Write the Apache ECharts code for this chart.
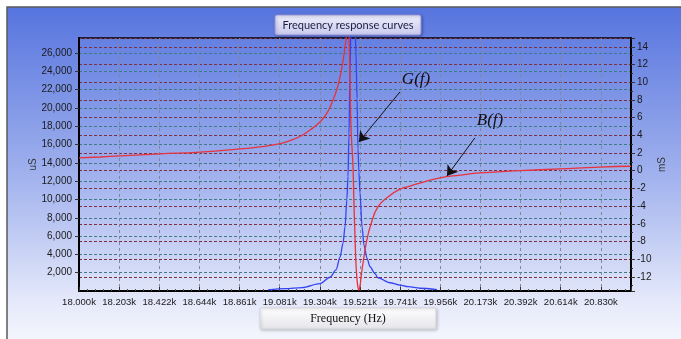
<!DOCTYPE html>
<html>
<head>
<meta charset="utf-8">
<script src="https://cdn.jsdelivr.net/npm/echarts@6/dist/echarts.min.js"></script>
<style>
  html, body { margin: 0; padding: 0; background: #fff; }
  #chart { width: 681px; height: 339px; }
</style>
</head>
<body>
<div id="chart"></div>
<script>
// x axis tick labels (Hz), not evenly spaced
const xTickHz = [18000, 18203, 18422, 18644, 18861, 19081, 19304, 19521, 19741, 19956, 20173, 20392, 20614, 20830];

// G(f) conductance, uS (left axis)
const gFreq = [19017, 19110, 19205, 19304, 19359, 19391, 19413, 19429, 19440, 19450, 19456, 19461, 19467, 19472, 19478, 19483, 19494, 19499, 19505, 19510, 19515, 19521, 19532, 19543, 19559, 19576, 19603, 19619, 19685, 19740, 19783, 19847, 19938];
const gValues = [120, 250, 360, 800, 1500, 2300, 3700, 5200, 7000, 10000, 12500, 17000, 24000, 29000, 31000, 31000, 29000, 26000, 21000, 15500, 13000, 10700, 7000, 5000, 3600, 2650, 1900, 1450, 900, 650, 470, 300, 150];

// B(f) susceptance, mS (right axis)
const bFreq = [18000, 18106, 18208, 18426, 18647, 18863, 18970, 19077, 19138, 19193, 19249, 19304, 19342, 19375, 19396, 19413, 19429, 19440, 19450, 19456, 19461, 19467, 19472, 19478, 19483, 19488, 19494, 19499, 19505, 19510, 19515, 19521, 19526, 19532, 19548, 19559, 19576, 19619, 19685, 19740, 19783, 19847, 19954, 20062, 20171, 20388, 20610, 20825, 20992];
const bValues = [1.45, 1.55, 1.67, 1.9, 2.1, 2.46, 2.7, 3.03, 3.4, 3.86, 4.6, 5.5, 6.5, 8.0, 9.2, 10.6, 12.4, 14.0, 15.5, 16.2, 15.5, 10, 5, 2.5, 0.5, -3.5, -7.5, -10.5, -12.3, -13.2, -13.5, -13.0, -12.2, -11.2, -9.0, -7.8, -6.4, -4.1, -2.8, -2.1, -1.8, -1.4, -0.81, -0.5, -0.25, 0, 0.2, 0.4, 0.5];

// axis ranges
const leftMin = 0, leftMax = 27640;
const rightMin = -13.6, rightMax = 15.0;

// annotation anchors [Hz, value]
const gText = [19826, 23050];
const gArrow = [[19740, 21750], [19515, 16290]];
const bText = [20225, 5.63];
const bArrow = [[20143, 3.71], [19992, -0.59]];

// Hz -> position in tick units (axis labels are not evenly spaced)
function hzToIdx(f) {
  const n = xTickHz.length;
  for (let k = 0; k < n - 1; k++) {
    if (f <= xTickHz[k + 1]) {
      return k + (f - xTickHz[k]) / (xTickHz[k + 1] - xTickHz[k]);
    }
  }
  return n - 1 + (f - xTickHz[n - 1]) / (xTickHz[n - 1] - xTickHz[n - 2]);
}

const pair = (fs, vs) => fs.map((f, i) => [hzToIdx(f), vs[i]]);
const at = p => [hzToIdx(p[0]), p[1]];

const chart = echarts.init(document.getElementById('chart'));

const labelFont = { color: '#1a1a1a', fontSize: 10, fontFamily: 'Liberation Sans, Arial, sans-serif' };
const annotFont = { color: '#111', fontSize: 17, fontStyle: 'italic', fontFamily: 'Liberation Serif, Times New Roman, serif' };

chart.setOption({
  animation: false,
  graphic: [
    {
      type: 'rect', z: -10, silent: true,
      shape: { x: 7, y: 7, width: 690, height: 350 },
      style: {
        fill: new echarts.graphic.LinearGradient(0, 0, 0, 1, [
          { offset: 0, color: '#5674de' },
          { offset: 0.5, color: '#a4b4ee' },
          { offset: 0.85, color: '#e6eafa' },
          { offset: 1, color: '#fbfcff' }
        ]),
        stroke: '#5a5a5a', lineWidth: 1.5
      }
    },
    {
      type: 'group', z: 100, silent: true,
      children: [
        {
          type: 'rect',
          shape: { x: 275, y: 15, width: 146, height: 20, r: 2 },
          style: {
            fill: new echarts.graphic.LinearGradient(0, 0, 0, 1, [
              { offset: 0, color: '#efeffc' },
              { offset: 1, color: '#c8c8ef' }
            ]),
            stroke: '#9494d8', lineWidth: 1,
            shadowBlur: 3, shadowColor: 'rgba(0,0,60,0.35)', shadowOffsetX: 1, shadowOffsetY: 1
          }
        },
        {
          type: 'text',
          style: {
            x: 348, y: 25, text: 'Frequency response curves',
            align: 'center', verticalAlign: 'middle',
            fill: '#1e1e3c', font: '11px Lato, "Noto Sans", sans-serif'
          }
        },
        {
          type: 'rect',
          shape: { x: 260, y: 308, width: 176, height: 21, r: 1 },
          style: {
            fill: new echarts.graphic.LinearGradient(0, 0, 0, 1, [
              { offset: 0, color: '#ffffff' },
              { offset: 1, color: '#e4e4ea' }
            ]),
            stroke: '#d6d6de', lineWidth: 1,
            shadowBlur: 3, shadowColor: 'rgba(0,0,0,0.2)', shadowOffsetX: 1, shadowOffsetY: 1
          }
        },
        {
          type: 'text',
          style: {
            x: 348, y: 318.5, text: 'Frequency (Hz)',
            align: 'center', verticalAlign: 'middle',
            fill: '#111', font: '12px "Liberation Serif", "Times New Roman", serif'
          }
        }
      ]
    }
  ],
  grid: {
    left: 79, right: 50, top: 38, bottom: 48,
    outerBoundsMode: 'none',
    show: true, borderColor: '#000', borderWidth: 1.5, backgroundColor: 'transparent'
  },
  xAxis: {
    type: 'value',
    min: 0,
    max: 13.75,
    interval: 1,
    axisLine: { lineStyle: { color: '#000', width: 2 } },
    axisTick: { inside: true, length: 4, lineStyle: { color: '#333' } },
    minorTick: { show: true, splitNumber: 5, length: 2, lineStyle: { color: '#555' } },
    axisLabel: Object.assign({
      margin: 6,
      formatter: v => Number.isInteger(v) && v < xTickHz.length ? (xTickHz[v] / 1000).toFixed(3) + 'k' : ''
    }, labelFont, { fontSize: 9.5 }),
    splitLine: { show: true, lineStyle: { color: '#84849a', type: [3, 3], width: 1 } }
  },
  yAxis: [
    {
      type: 'value',
      position: 'left',
      min: leftMin, max: leftMax,
      minInterval: 2000, maxInterval: 2000, splitNumber: 14,
      name: 'uS', nameLocation: 'middle', nameRotate: 90, nameGap: 41, nameMoveOverlap: false,
      nameTextStyle: { color: '#333', fontSize: 10, fontFamily: 'Liberation Sans, Arial, sans-serif' },
      axisLine: { show: true, lineStyle: { color: '#000', width: 2 } },
      axisTick: { show: true, length: 4, lineStyle: { color: '#333' } },
      axisLabel: Object.assign({
        margin: 7, showMinLabel: false, showMaxLabel: false,
        formatter: v => v.toLocaleString('en-US')
      }, labelFont),
      splitLine: { show: true, lineStyle: { color: '#3d7a84', type: [3, 2], width: 1 } }
    },
    {
      type: 'value',
      position: 'right',
      min: rightMin, max: rightMax,
      minInterval: 2, maxInterval: 2, splitNumber: 14,
      name: 'mS', nameLocation: 'middle', nameRotate: 90, nameGap: 26, nameMoveOverlap: false,
      nameTextStyle: { color: '#333', fontSize: 10, fontFamily: 'Liberation Sans, Arial, sans-serif' },
      axisLine: { show: true, lineStyle: { color: '#000', width: 2 } },
      axisTick: { show: true, length: 4, lineStyle: { color: '#333' } },
      minorTick: { show: true, splitNumber: 2, length: 2, lineStyle: { color: '#333' } },
      axisLabel: Object.assign({
        margin: 6, showMinLabel: false, showMaxLabel: false
      }, labelFont),
      splitLine: { show: true, lineStyle: { color: '#7a3040', type: [3, 2], width: 1 } }
    }
  ],
  series: [
    {
      name: 'G(f)',
      type: 'line',
      yAxisIndex: 0,
      data: pair(gFreq, gValues),
      showSymbol: false,
      smooth: 0.3,
      smoothMonotone: 'x',
      clip: true,
      lineStyle: { color: '#3344f2', width: 1.3 },
      markLine: {
        silent: true, animation: false,
        symbol: ['none', 'arrow'], symbolSize: 10,
        label: { show: false },
        lineStyle: { color: '#111', width: 1, type: 'solid' },
        data: [[{ coord: at(gArrow[0]) }, { coord: at(gArrow[1]) }]]
      },
      markPoint: {
        silent: true, animation: false,
        symbol: 'circle', symbolSize: 0,
        label: Object.assign({ show: true, position: 'inside', formatter: 'G(f)' }, annotFont),
        data: [{ coord: at(gText) }]
      }
    },
    {
      name: 'B(f)',
      type: 'line',
      yAxisIndex: 1,
      data: pair(bFreq, bValues),
      showSymbol: false,
      smooth: 0.5,
      clip: true,
      lineStyle: { color: '#e8323c', width: 1.3 },
      markLine: {
        silent: true, animation: false,
        symbol: ['none', 'arrow'], symbolSize: 10,
        label: { show: false },
        lineStyle: { color: '#111', width: 1, type: 'solid' },
        data: [[{ coord: at(bArrow[0]) }, { coord: at(bArrow[1]) }]]
      },
      markPoint: {
        silent: true, animation: false,
        symbol: 'circle', symbolSize: 0,
        label: Object.assign({ show: true, position: 'inside', formatter: 'B(f)' }, annotFont),
        data: [{ coord: at(bText) }]
      }
    }
  ]
});
</script>
</body>
</html>
